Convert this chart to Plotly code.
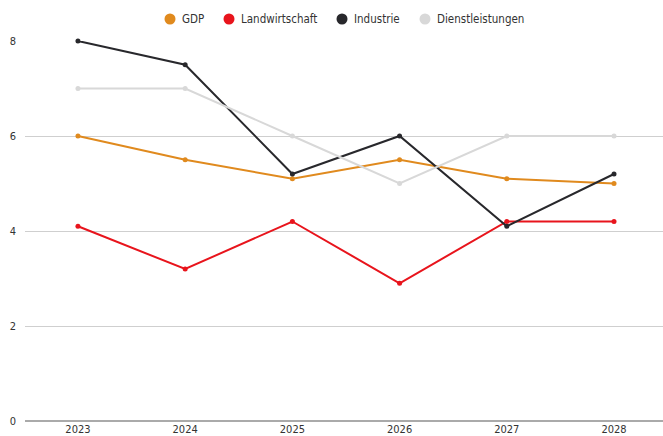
import plotly.graph_objects as go

years = ["2023", "2024", "2025", "2026", "2027", "2028"]
gdp = [6.0, 5.5, 5.1, 5.5, 5.1, 5.0]
landwirtschaft = [4.1, 3.2, 4.2, 2.9, 4.2, 4.2]
industrie = [8.0, 7.5, 5.2, 6.0, 4.1, 5.2]
dienstleistungen = [7.0, 7.0, 6.0, 5.0, 6.0, 6.0]

names = ["GDP", "Landwirtschaft", "Industrie", "Dienstleistungen"]
values = [gdp, landwirtschaft, industrie, dienstleistungen]
colors = ["#E08A1E", "#E8141C", "#28282C", "#D8D8D8"]

W, H = 663, 436
ML, MR, MT, MB = 25, 0, 41, 15
PW, PH = W - ML - MR, H - MT - MB

fig = go.Figure()
for name, vals, color in zip(names, values, colors):
    fig.add_trace(go.Scatter(
        x=list(range(len(years))), y=vals, name=name, mode="lines+markers",
        line=dict(color=color, width=2),
        marker=dict(color=color, size=5),
        showlegend=False, cliponaxis=False,
    ))

# custom legend (circle swatch + label), centred at top
legend_circle_px = [170, 229, 342, 425]
legend_y_px = 19
r = 5.5
shapes, annotations = [], []
for name, color, cx in zip(names, colors, legend_circle_px):
    x0 = (cx - r - ML) / PW
    x1 = (cx + r - ML) / PW
    y0 = 1 + (MT - legend_y_px - r) / PH
    y1 = 1 + (MT - legend_y_px + r) / PH
    shapes.append(dict(type="circle", xref="paper", yref="paper",
                       x0=x0, x1=x1, y0=y0, y1=y1,
                       fillcolor=color, line=dict(width=0)))
    annotations.append(dict(text=name, xref="paper", yref="paper",
                            x=(cx + 10 - ML) / PW, y=1 + (MT - legend_y_px) / PH,
                            xanchor="left", yanchor="middle", showarrow=False,
                            font=dict(size=11.5, color="#333333")))

fig.update_layout(
    width=W, height=H,
    margin=dict(l=ML, r=MR, t=MT, b=MB),
    paper_bgcolor="white", plot_bgcolor="white",
    font=dict(family="DejaVu Sans Condensed, Roboto, sans-serif", size=11, color="#333333"),
    showlegend=False,
    hovermode=False,
    shapes=shapes, annotations=annotations,
    xaxis=dict(
        tickmode="array", tickvals=list(range(len(years))), ticktext=years,
        range=[-0.494, 5.457], showgrid=False, zeroline=False, showline=False,
        ticks="", tickfont=dict(size=11, color="#333333"), automargin=False,
    ),
    yaxis=dict(
        range=[0, 8], tickvals=[0, 2, 4, 6, 8], showgrid=True,
        gridcolor="#CFCFCF", gridwidth=1, zeroline=True, zerolinecolor="#AAAAAA",
        zerolinewidth=2, ticks="", ticklabelstandoff=8, automargin=False,
        tickfont=dict(size=11, color="#333333"),
    ),
)
fig.write_html("out.html", config={"displayModeBar": False},
               post_script="document.body.style.margin='0';document.body.style.overflow='hidden';")
